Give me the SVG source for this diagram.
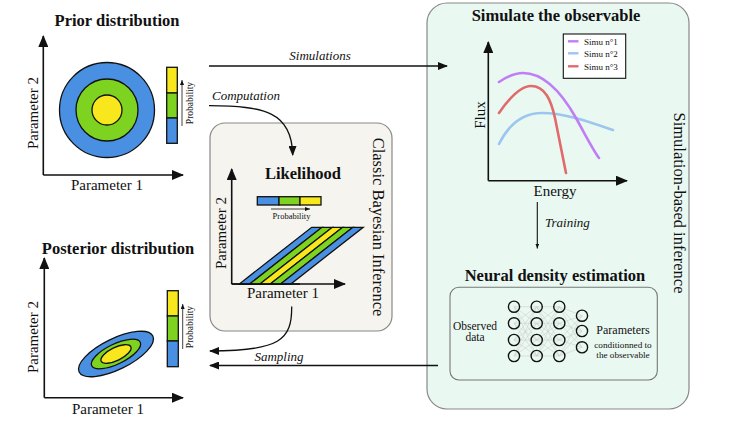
<svg xmlns="http://www.w3.org/2000/svg" width="747" height="424" viewBox="0 0 747 424">
<style>
text{font-family:"Liberation Serif","DejaVu Serif",serif;fill:#111}
.t{font-size:16.5px;font-weight:bold}
.lab{font-size:15px}
.it{font-size:13px;font-style:italic}
.pr{font-size:9.5px}
.ax{stroke:#111;stroke-width:1.6;fill:none}
.b{fill:#4a90e2;stroke:#111;stroke-width:1.3}
.g{fill:#7ed321;stroke:#111;stroke-width:1.3}
.y{fill:#f8e71c;stroke:#111;stroke-width:1.3}
.cn{stroke:#111;stroke-width:1.3;fill:none}
.nn{fill:none;stroke:#111;stroke-width:1.4}
.w{stroke:#c8c8c8;stroke-width:0.5}
</style>
<defs>
<marker id="ax" markerUnits="userSpaceOnUse" markerWidth="12" markerHeight="10" refX="11" refY="5" orient="auto"><path d="M0,0 L12,5 L0,10 z" fill="#111"/></marker>
<marker id="ar" markerUnits="userSpaceOnUse" markerWidth="10" markerHeight="8" refX="9" refY="4" orient="auto"><path d="M0,0 L10,4 L0,8 z" fill="#111"/></marker>
<marker id="sm" markerUnits="userSpaceOnUse" markerWidth="5" markerHeight="4" refX="5" refY="2" orient="auto"><path d="M0,0 L5,2 L0,4 z" fill="#111"/></marker>
</defs>

<g id="bayes-box">
<rect x="210" y="123" width="182" height="208" rx="15" fill="#f5f4ef" stroke="#888" stroke-width="1.2"/>
<text class="lab" font-size="16.5" x="377" y="227" text-anchor="middle" transform="rotate(90 377 227)" dominant-baseline="middle" style="font-size:16.5px">Classic Bayesian Inference</text>
</g>

<g id="sbi-box">
<rect x="427" y="3" width="262" height="406" rx="20" fill="#e9f8f1" stroke="#888" stroke-width="1.2"/>
<text x="678" y="203" text-anchor="middle" dominant-baseline="middle" transform="rotate(90 678 203)" style="font-size:16.5px">Simulation-based inference</text>
</g>

<g id="prior">
<text class="t" x="117" y="26" text-anchor="middle">Prior distribution</text>
<line class="ax" x1="43.3" y1="175" x2="43.3" y2="36" marker-end="url(#ax)"/>
<line class="ax" x1="43.3" y1="175" x2="183" y2="175" marker-end="url(#ax)"/>
<circle class="b" cx="107" cy="110" r="47.5"/>
<circle class="g" cx="107" cy="110" r="31"/>
<circle class="y" cx="107" cy="110" r="15"/>
<rect class="y" x="166.7" y="67.3" width="10.6" height="25.7"/>
<rect class="g" x="166.7" y="93" width="10.6" height="25"/>
<rect class="b" x="166.7" y="118" width="10.6" height="25.3"/>
<line x1="182" y1="126" x2="182" y2="80" stroke="#111" stroke-width="0.8" marker-end="url(#sm)"/>
<text class="pr" x="191" y="103" text-anchor="middle" transform="rotate(-90 191 103)" dominant-baseline="middle">Probability</text>
<text class="lab" x="35" y="113" text-anchor="middle" dominant-baseline="middle" transform="rotate(-90 35 113)">Parameter 2</text>
<text class="lab" x="107" y="190" text-anchor="middle">Parameter 1</text>
</g>

<g id="likelihood">
<text class="t" x="303" y="179" text-anchor="middle">Likelihood</text>
<line class="ax" x1="231.7" y1="284" x2="231.7" y2="169" marker-end="url(#ax)"/>
<line class="ax" x1="231.7" y1="284" x2="345" y2="284" marker-end="url(#ax)"/>
<rect class="b" x="257.3" y="196.7" width="21.7" height="8.3"/>
<rect class="g" x="279" y="196.7" width="21" height="8.3"/>
<rect class="y" x="300" y="196.7" width="21" height="8.3"/>
<line x1="271" y1="209" x2="310" y2="209" stroke="#111" stroke-width="0.8" marker-end="url(#sm)"/>
<text x="291.5" y="218.5" text-anchor="middle" style="font-size:8.5px">Probability</text>
<polygon class="b" points="239.3,284 249.6,284 322,227.3 311.7,227.3"/>
<polygon class="g" points="249.6,284 259.9,284 332.3,227.3 322,227.3"/>
<polygon class="y" points="259.9,284 270.2,284 342.6,227.3 332.3,227.3"/>
<polygon class="g" points="270.2,284 280.5,284 352.9,227.3 342.6,227.3"/>
<polygon class="b" points="280.5,284 290.8,284 363.2,227.3 352.9,227.3"/>
<line class="ax" x1="231.7" y1="284" x2="300" y2="284"/>
<text class="lab" x="223" y="233" text-anchor="middle" dominant-baseline="middle" transform="rotate(-90 223 233)">Parameter 2</text>
<text class="lab" x="283" y="298" text-anchor="middle">Parameter 1</text>
</g>

<g id="posterior">
<text class="t" x="118" y="254" text-anchor="middle">Posterior distribution</text>
<line class="ax" x1="44.3" y1="397.7" x2="44.3" y2="258" marker-end="url(#ax)"/>
<line class="ax" x1="44.3" y1="397.7" x2="183" y2="397.7" marker-end="url(#ax)"/>
<g transform="translate(116 354) rotate(-26)">
<ellipse class="b" cx="0" cy="0" rx="41" ry="15.5"/>
<ellipse class="g" cx="0" cy="0" rx="27" ry="10"/>
<ellipse class="y" cx="0" cy="0" rx="16.5" ry="6.5"/>
</g>
<rect class="y" x="167.3" y="290.7" width="11" height="25.3"/>
<rect class="g" x="167.3" y="316" width="11" height="25"/>
<rect class="b" x="167.3" y="341" width="11" height="25.7"/>
<line x1="182.7" y1="349" x2="182.7" y2="304" stroke="#111" stroke-width="0.8" marker-end="url(#sm)"/>
<text class="pr" x="191" y="327" text-anchor="middle" transform="rotate(-90 191 327)" dominant-baseline="middle">Probability</text>
<text class="lab" x="35" y="337" text-anchor="middle" dominant-baseline="middle" transform="rotate(-90 35 337)">Parameter 2</text>
<text class="lab" x="108" y="414" text-anchor="middle">Parameter 1</text>
</g>

<g id="simulate">
<text class="t" x="556" y="21" text-anchor="middle">Simulate the observable</text>
<line class="ax" x1="488.3" y1="180.7" x2="488.3" y2="42" marker-end="url(#ax)"/>
<line class="ax" x1="488.3" y1="180.7" x2="627" y2="180.7" marker-end="url(#ax)"/>
<path d="M499,144 C510,122 525,113 542,113 C565,113 590,122 613,130" fill="none" stroke="#9cc6ef" stroke-width="2.6" stroke-linecap="round"/>
<path d="M499,82 C508,76 515,73 523,73 C545,73 563,95 576,118 C586,136 593,150 599,158" fill="none" stroke="#c07ef6" stroke-width="2.6" stroke-linecap="round"/>
<path d="M499,113 C508,100 520,86 531,86 C545,86 551,100 555,118 C559,138 563,158 566,173" fill="none" stroke="#e06a6c" stroke-width="2.6" stroke-linecap="round"/>
<rect x="563.3" y="34" width="62.4" height="44.3" fill="#fff" stroke="#111" stroke-width="1.1"/>
<line x1="568" y1="41.3" x2="578.5" y2="41.3" stroke="#c07ef6" stroke-width="2.4"/>
<line x1="568" y1="53.3" x2="578.5" y2="53.3" stroke="#9cc6ef" stroke-width="2.4"/>
<line x1="568" y1="66.3" x2="578.5" y2="66.3" stroke="#e06a6c" stroke-width="2.4"/>
<text x="584" y="44.5" style="font-size:9px">Simu n°1</text>
<text x="584" y="56.5" style="font-size:9px">Simu n°2</text>
<text x="584" y="69.5" style="font-size:9px">Simu n°3</text>
<text class="lab" x="481.7" y="115" text-anchor="middle" dominant-baseline="middle" transform="rotate(-90 481.7 115)">Flux</text>
<text class="lab" x="555" y="196" text-anchor="middle">Energy</text>
</g>

<g id="nde">
<text class="t" x="555" y="281" text-anchor="middle">Neural density estimation</text>
<rect x="450" y="287.3" width="207.3" height="92.7" rx="9" fill="#e9f8f1" stroke="#777" stroke-width="1.1"/>
<g id="wires">
<path class="w" d="M514,306.7 L536.7,306.7 M514,306.7 L536.7,323.3 M514,306.7 L536.7,340 M514,306.7 L536.7,356 M514,323.3 L536.7,306.7 M514,323.3 L536.7,323.3 M514,323.3 L536.7,340 M514,323.3 L536.7,356 M514,340 L536.7,306.7 M514,340 L536.7,323.3 M514,340 L536.7,340 M514,340 L536.7,356 M514,356 L536.7,306.7 M514,356 L536.7,323.3 M514,356 L536.7,340 M514,356 L536.7,356"/>
<path class="w" d="M536.7,306.7 L559.3,306.7 M536.7,306.7 L559.3,323.3 M536.7,306.7 L559.3,340 M536.7,306.7 L559.3,356 M536.7,323.3 L559.3,306.7 M536.7,323.3 L559.3,323.3 M536.7,323.3 L559.3,340 M536.7,323.3 L559.3,356 M536.7,340 L559.3,306.7 M536.7,340 L559.3,323.3 M536.7,340 L559.3,340 M536.7,340 L559.3,356 M536.7,356 L559.3,306.7 M536.7,356 L559.3,323.3 M536.7,356 L559.3,340 M536.7,356 L559.3,356"/>
<path class="w" d="M559.3,306.7 L582,315.7 M559.3,306.7 L582,331 M559.3,306.7 L582,347.3 M559.3,323.3 L582,315.7 M559.3,323.3 L582,331 M559.3,323.3 L582,347.3 M559.3,340 L582,315.7 M559.3,340 L582,331 M559.3,340 L582,347.3 M559.3,356 L582,315.7 M559.3,356 L582,331 M559.3,356 L582,347.3"/>
</g>
<g fill="#e9f8f1">
<circle class="nn" cx="514" cy="306.7" r="5.6" fill="#e9f8f1"/><circle class="nn" cx="514" cy="323.3" r="5.6" fill="#e9f8f1"/><circle class="nn" cx="514" cy="340" r="5.6" fill="#e9f8f1"/><circle class="nn" cx="514" cy="356" r="5.6" fill="#e9f8f1"/>
<circle class="nn" cx="536.7" cy="306.7" r="5.6" fill="#e9f8f1"/><circle class="nn" cx="536.7" cy="323.3" r="5.6" fill="#e9f8f1"/><circle class="nn" cx="536.7" cy="340" r="5.6" fill="#e9f8f1"/><circle class="nn" cx="536.7" cy="356" r="5.6" fill="#e9f8f1"/>
<circle class="nn" cx="559.3" cy="306.7" r="5.6" fill="#e9f8f1"/><circle class="nn" cx="559.3" cy="323.3" r="5.6" fill="#e9f8f1"/><circle class="nn" cx="559.3" cy="340" r="5.6" fill="#e9f8f1"/><circle class="nn" cx="559.3" cy="356" r="5.6" fill="#e9f8f1"/>
<circle class="nn" cx="582" cy="315.7" r="5.6" fill="#e9f8f1"/><circle class="nn" cx="582" cy="331" r="5.6" fill="#e9f8f1"/><circle class="nn" cx="582" cy="347.3" r="5.6" fill="#e9f8f1"/>
</g>
<text x="475" y="330" text-anchor="middle" style="font-size:11.5px">Observed</text>
<text x="475" y="341" text-anchor="middle" style="font-size:11.5px">data</text>
<text x="623" y="334" text-anchor="middle" style="font-size:12px">Parameters</text>
<text x="623" y="348" text-anchor="middle" style="font-size:9.2px">conditionned to</text>
<text x="623" y="357.5" text-anchor="middle" style="font-size:9.2px">the observable</text>
</g>

<g id="connectors">
<line class="cn" x1="209" y1="66" x2="447" y2="66" marker-end="url(#ar)"/>
<text class="it" x="320" y="60" text-anchor="middle">Simulations</text>
<path class="cn" d="M209,105.7 C265,106 292,112 292.7,155" marker-end="url(#ar)"/>
<text class="it" x="212" y="100">Computation</text>
<line x1="537.3" y1="202" x2="537.3" y2="248.5" stroke="#111" stroke-width="1.1" marker-end="url(#sm)"/>
<text class="it" x="545" y="227">Training</text>
<path class="cn" d="M291.7,306.5 C292,340 280,351 210,351" marker-end="url(#ar)"/>
<line class="cn" x1="438" y1="365.5" x2="210" y2="365.5" marker-end="url(#ar)"/>
<text class="it" x="279" y="361" text-anchor="middle">Sampling</text>
</g>
</svg>
